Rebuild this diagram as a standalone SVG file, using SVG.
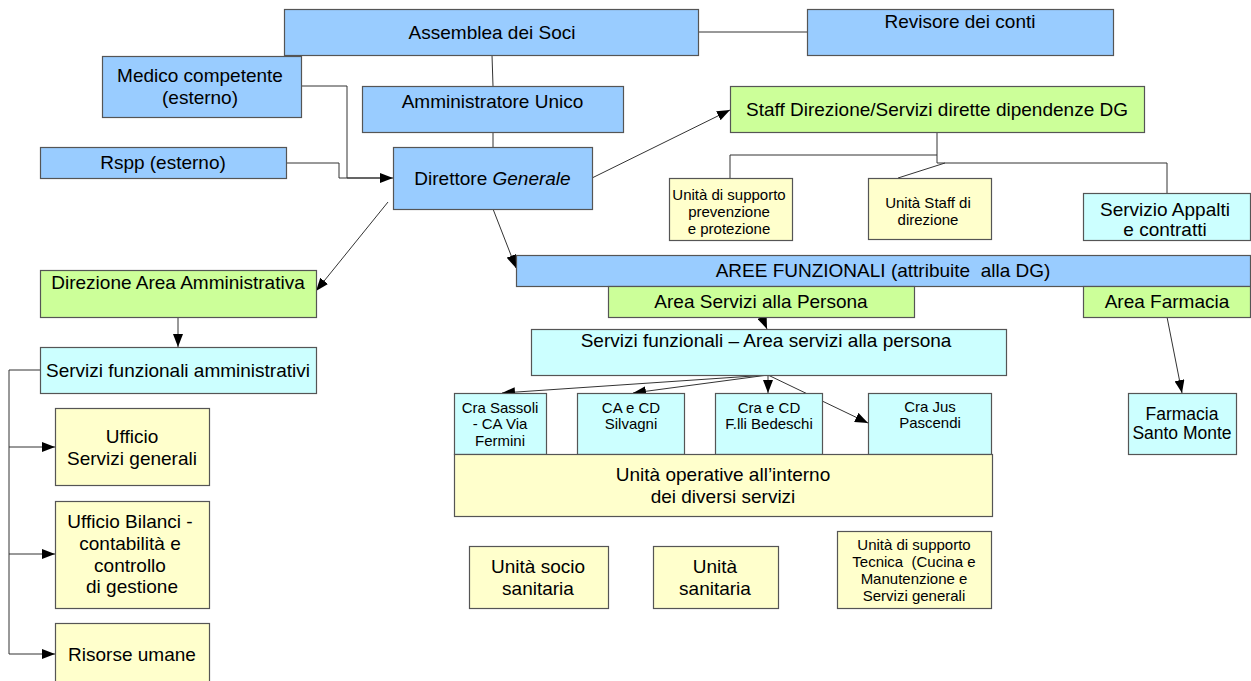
<svg xmlns="http://www.w3.org/2000/svg" width="1251" height="681" viewBox="0 0 1251 681">
<style>
.b{stroke:#555;stroke-width:1.2}
.blue{fill:#99ccff}.green{fill:#ccff99}.cyan{fill:#ccffff}.yel{fill:#ffffcc}
text{font-family:"Liberation Sans",Arial,sans-serif;fill:#000;text-anchor:middle}
.t19{font-size:19px}.t15{font-size:15px}.t17{font-size:17.5px}
.c{fill:none;stroke:#333;stroke-width:1}
.a{marker-end:url(#ah)}
</style>
<defs>
<marker id="ah" markerUnits="userSpaceOnUse" markerWidth="14" markerHeight="10" refX="13" refY="5" orient="auto">
<path d="M0,0 L13,5 L0,10 z" fill="#000"/>
</marker>
</defs>
<rect width="1251" height="681" fill="#fff"/>
<g id="connectors">
<path class="c" d="M492,55 L493,86"/>
<path class="c" d="M493,132 V147"/>
<path class="c" d="M698,32 H807"/>
<path class="c" d="M286,163 H339 V178 H380"/>
<path class="c a" d="M301,86 H347 V178 H393"/>
<path class="c" d="M937,132 V163 H1167 V193"/>
<path class="c" d="M937,155 H730 V178"/>
<path class="c" d="M945,163 L898,178"/>
<path class="c a" d="M592,178 L730,110"/>
<path class="c a" d="M493,209 L516,268"/>
<path class="c a" d="M388,202 L316,291"/>
<path class="c a" d="M178,317 V347"/>
<path class="c a" d="M40,370 H9 V654 H55"/>
<path class="c a" d="M9,447 H55"/>
<path class="c a" d="M9,554 H55"/>
<path class="c a" d="M762,317 L767,329"/>
<path class="c a" d="M768,375 L502,393"/>
<path class="c a" d="M768,375 L633,393"/>
<path class="c a" d="M768,375 V393"/>
<path class="c a" d="M768,375 L868,423"/>
<path class="c a" d="M1167,317 L1182,393"/>
</g>
<g id="assemblea"><rect class="b blue" x="284.5" y="9.5" width="414" height="46"/><text class="t19" x="492" y="39">Assemblea dei Soci</text></g>
<g id="revisore"><rect class="b blue" x="807.5" y="9.5" width="306" height="46"/><text class="t19" x="960" y="28">Revisore dei conti</text></g>
<g id="medico"><rect class="b blue" x="102.5" y="56.5" width="199" height="61"/><text class="t19" x="200" y="82">Medico competente</text><text class="t19" x="200" y="104">(esterno)</text></g>
<g id="amministratore"><rect class="b blue" x="362.5" y="86.5" width="261" height="46"/><text class="t19" x="492.5" y="108">Amministratore Unico</text></g>
<g id="rspp"><rect class="b blue" x="40.5" y="147.5" width="246" height="31"/><text class="t19" x="163" y="169">Rspp (esterno)</text></g>
<g id="direttore"><rect class="b blue" x="393.5" y="147.5" width="199" height="62"/><text class="t19" x="492.5" y="185">Direttore <tspan font-style="italic">Generale</tspan></text></g>
<g id="staff"><rect class="b green" x="730.5" y="86.5" width="414" height="46"/><text class="t19" x="937" y="116">Staff Direzione/Servizi dirette dipendenze DG</text></g>
<g id="unita-supporto-prevenzione"><rect class="b yel" x="669.5" y="178.5" width="123" height="62"/><text class="t15" x="729" y="200">Unità di supporto</text><text class="t15" x="729" y="217">prevenzione</text><text class="t15" x="729" y="234">e protezione</text></g>
<g id="unita-staff"><rect class="b yel" x="868.5" y="178.5" width="123" height="61"/><text class="t15" x="928" y="208">Unità Staff di</text><text class="t15" x="928" y="225">direzione</text></g>
<g id="servizio-appalti"><rect class="b cyan" x="1083.5" y="193.5" width="167" height="47"/><text class="t19" x="1165" y="216">Servizio Appalti</text><text class="t19" x="1165" y="236">e contratti</text></g>
<g id="aree-funzionali"><rect class="b blue" x="516.5" y="255.5" width="734" height="31"/><text class="t19" x="883" y="277" xml:space="preserve">AREE FUNZIONALI (attribuite  alla DG)</text></g>
<g id="area-persona"><rect class="b green" x="608.5" y="286.5" width="306" height="31"/><text class="t19" x="761" y="308">Area Servizi alla Persona</text></g>
<g id="area-farmacia"><rect class="b green" x="1083.5" y="286.5" width="167" height="31"/><text class="t19" x="1167" y="308">Area Farmacia</text></g>
<g id="servizi-funzionali-persona"><rect class="b cyan" x="531.5" y="329.5" width="475" height="46"/><text class="t19" x="766" y="347">Servizi funzionali – Area servizi alla persona</text></g>
<g id="cra-sassoli"><rect class="b cyan" x="454.5" y="393.5" width="92" height="61"/><text class="t15" x="500" y="413">Cra Sassoli</text><text class="t15" x="500" y="429">- CA Via</text><text class="t15" x="500" y="446">Fermini</text></g>
<g id="ca-silvagni"><rect class="b cyan" x="577.5" y="393.5" width="107" height="61"/><text class="t15" x="631" y="413">CA e CD</text><text class="t15" x="631" y="429">Silvagni</text></g>
<g id="cra-bedeschi"><rect class="b cyan" x="715.5" y="393.5" width="107" height="61"/><text class="t15" x="769" y="413">Cra e CD</text><text class="t15" x="769" y="429">F.lli Bedeschi</text></g>
<g id="cra-jus"><rect class="b cyan" x="868.5" y="393.5" width="123" height="61"/><text class="t15" x="930" y="412">Cra Jus</text><text class="t15" x="930" y="428">Pascendi</text></g>
<g id="unita-operative"><rect class="b yel" x="454.5" y="454.5" width="538" height="62"/><text class="t19" x="723" y="481">Unità operative all’interno</text><text class="t19" x="723" y="503">dei diversi servizi</text></g>
<g id="farmacia"><rect class="b cyan" x="1128.5" y="393.5" width="108" height="61"/><text class="t17" x="1182" y="420">Farmacia</text><text class="t17" x="1182" y="439">Santo Monte</text></g>
<g id="direzione-area-amministrativa"><rect class="b green" x="40.5" y="270.5" width="276" height="47"/><text class="t19" x="178" y="289">Direzione Area Amministrativa</text></g>
<g id="servizi-funzionali-amministrativi"><rect class="b cyan" x="40.5" y="347.5" width="276" height="46"/><text class="t19" x="178" y="377">Servizi funzionali amministrativi</text></g>
<g id="ufficio-servizi-generali"><rect class="b yel" x="55.5" y="408.5" width="154" height="77"/><text class="t19" x="132" y="443">Ufficio</text><text class="t19" x="132" y="465">Servizi generali</text></g>
<g id="ufficio-bilanci"><rect class="b yel" x="55.5" y="501.5" width="154" height="107"/><text class="t19" x="130" y="528">Ufficio Bilanci -</text><text class="t19" x="130" y="550">contabilità e</text><text class="t19" x="130" y="572">controllo</text><text class="t19" x="132" y="593">di gestione</text></g>
<g id="risorse-umane"><rect class="b yel" x="55.5" y="623.5" width="154" height="70"/><text class="t19" x="132" y="661">Risorse umane</text></g>
<g id="unita-socio-sanitaria"><rect class="b yel" x="469.5" y="546.5" width="139" height="62"/><text class="t19" x="538" y="573">Unità socio</text><text class="t19" x="538" y="595">sanitaria</text></g>
<g id="unita-sanitaria"><rect class="b yel" x="653.5" y="546.5" width="125" height="62"/><text class="t19" x="715" y="573">Unità</text><text class="t19" x="715" y="595">sanitaria</text></g>
<g id="unita-supporto-tecnica"><rect class="b yel" x="837.5" y="531.5" width="154" height="77"/><text class="t15" x="914" y="550">Unità di supporto</text><text class="t15" x="914" y="567" xml:space="preserve">Tecnica  (Cucina e</text><text class="t15" x="914" y="584">Manutenzione e</text><text class="t15" x="914" y="601">Servizi generali</text></g>
</svg>
